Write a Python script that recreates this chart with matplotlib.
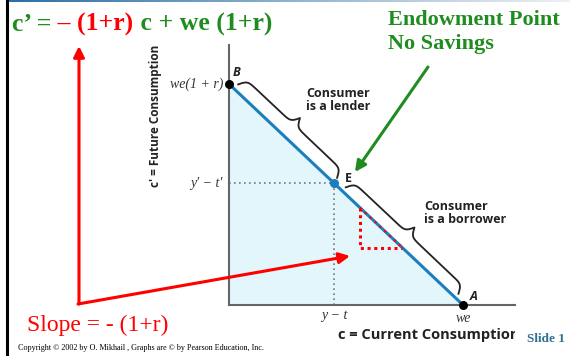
import numpy as np
import matplotlib
matplotlib.use("Agg")
import matplotlib.pyplot as plt
from matplotlib.colors import LinearSegmentedColormap
from matplotlib.patches import Rectangle

# budget line data (schematic units)
we = 10.0
r = 0.1
y_minus_t = 4.5
tri_x = [5.6, 7.4]
endowment_labels = ["y \u2212 t", "we"]
future_labels = ["we(1 + r)", "y\u2032 \u2212 t\u2032"]

GREEN = "#1f8c1f"
RED = "#ff0000"
BLUE = "#1b7fbd"
W, H = 570, 356


def future(c):
    return we * (1 + r) - (1 + r) * np.asarray(c)


fig = plt.figure(figsize=(W / 100, H / 100), dpi=100)
fig.patch.set_facecolor("white")

# graph axes
ax = fig.add_axes([229 / W, (H - 305) / H, 286 / W, 260 / H])
ax.set_xlim(0, 12.22)
ax.set_ylim(0, 12.94)
for s in ["top", "right"]:
    ax.spines[s].set_visible(False)
for s in ["left", "bottom"]:
    ax.spines[s].set_color("#666666")
    ax.spines[s].set_linewidth(1.5)
ax.set_xticks([])
ax.set_yticks([])
ax.patch.set_alpha(0)

c = np.array([0, we])
ax.fill_between(c, future(c), 0, color="#e3f6fb", zorder=1)
ax.plot(c, future(c), color=BLUE, lw=2.2, zorder=3)

e_y = float(future(y_minus_t))
ax.plot([0, y_minus_t], [e_y, e_y], color="#777777", lw=1.2, ls=(0, (1, 2)), zorder=2)
ax.plot([y_minus_t, y_minus_t], [0, e_y], color="#777777", lw=1.2, ls=(0, (1, 2)), zorder=2)

t0, t1 = tri_x
ax.plot([t0, t0, t1], [future(t0), future(t1), future(t1)], color=RED, lw=2.2,
        ls=(0, (1, 1.2)), zorder=4)
ax.plot([t0, t1], [future(t0), future(t1)], color=RED, lw=1.6, ls=(0, (1, 2)), zorder=4)

ax.scatter([0, we], [future(0), 0], s=30, color="black", zorder=5, clip_on=False)
ax.scatter([y_minus_t], [e_y], s=30, color=BLUE, zorder=5, clip_on=False)

# overlay in pixel coordinates
ov = fig.add_axes([0, 0, 1, 1], zorder=10)
ov.set_xlim(0, W)
ov.set_ylim(H, 0)
ov.axis("off")
ov.patch.set_alpha(0)


def to_px(x, y):
    px, py = ax.transData.transform((x, y))
    return px, H - py


def brace(p1, p2, a0, a1, base, height, n=200, beta=0.45):
    (x1, y1), (x2, y2) = p1, p2
    d = np.array([x2 - x1, y2 - y1])
    u = d / np.hypot(*d)
    nrm = np.array([u[1], -u[0]])
    L = a1 - a0
    x = np.linspace(0, L / 2, n)
    half = 1 / (1 + np.exp(-beta * (x - x[0]))) + 1 / (1 + np.exp(-beta * (x - x[-1])))
    yy = np.concatenate([half, half[::-1]]) - 0.5
    xx = np.concatenate([x, L - x[::-1]]) + a0
    pts = np.array([x1, y1]) + np.outer(xx, u) + np.outer(base + yy * height, nrm)
    ov.plot(pts[:, 0], pts[:, 1], color="#222222", lw=1.3)


B = to_px(0, future(0))
E = to_px(y_minus_t, e_y)
A = to_px(we, 0)
brace(B, E, 7, 143, 6, 18)
brace(E, A, 11, 166, 5, 18)

# border of the slide
cmap = LinearSegmentedColormap.from_list("top", ["#2c6fa3", "#8fb2cf", "#eef1f4"])
ov.imshow(np.linspace(0, 1, 256)[None, :], extent=(8, W, 2.5, 0), cmap=cmap, aspect="auto")
ov.plot([7, 7], [0, H], color="black", lw=2.2)
ov.set_xlim(0, W)
ov.set_ylim(H, 0)

# equation in the title
title_kw = dict(fontsize=18.5, fontweight="bold", family="Liberation Serif")
t = ov.text(12, 31, "c\u2019 =", color=GREEN, va="baseline", **title_kw)
t = ov.annotate(" \u2013 (1+r)", xy=(1, 0), xycoords=t, color=RED, va="bottom", **title_kw)
ov.annotate(" c + we (1+r)", xy=(1, 0), xycoords=t, color=GREEN, va="bottom", **title_kw)

ov.text(388, 10, "Endowment Point\nNo Savings", color=GREEN, fontsize=16, fontweight="bold",
        family="Liberation Serif", va="top", linespacing=1.3)
ov.text(27, 331, "Slope = - (1+r)", color=RED, fontsize=17, family="Liberation Serif",
        va="baseline")
ov.text(18, 350, "Copyright \u00a9 2002 by O. Mikhail , Graphs are \u00a9 by Pearson Education, Inc.",
        fontsize=5.9, family="Liberation Serif", va="baseline")
ov.text(527, 342, "Slide 1", color="#2f6f8f", fontsize=9.5, fontweight="bold",
        family="Liberation Serif", va="baseline")

# arrows
ov.annotate("", xy=(79, 46), xytext=(79, 304),
            arrowprops=dict(arrowstyle="-|>", color=RED, lw=2.2, mutation_scale=16,
                            shrinkA=0, shrinkB=0))
ov.annotate("", xy=(350, 256), xytext=(78, 304),
            arrowprops=dict(arrowstyle="-|>", color=RED, lw=2.2, mutation_scale=16,
                            shrinkA=0, shrinkB=0))
ov.annotate("", xy=(355, 172), xytext=(428, 67),
            arrowprops=dict(arrowstyle="-|>", color=GREEN, lw=2.2, mutation_scale=16,
                            shrinkA=0, shrinkB=0))

# graph labels
serif_it = dict(family="Liberation Serif", style="italic", fontsize=10, color="#333333")
ov.text(223, 84, future_labels[0], ha="right", va="center", **serif_it)
ov.text(223, 183, future_labels[1], ha="right", va="center", **serif_it)
ov.text(E[0], 316, endowment_labels[0], ha="center", va="center", **serif_it)
ov.text(A[0], 318, endowment_labels[1], ha="center", va="center", **serif_it)

sans_b = dict(family="Open Sans", fontweight="bold", color="#222222")
ov.text(237, 73, "B", style="italic", ha="center", va="center", fontsize=9, **sans_b)
ov.text(348, 178, "E", ha="center", va="center", fontsize=9, **sans_b)
ov.text(474, 297, "A", style="italic", ha="center", va="center", fontsize=9, **sans_b)
ov.text(306, 100, "Consumer\nis a lender", ha="left", va="center", linespacing=1.0,
        fontsize=9, **sans_b)
ov.text(424, 213, "Consumer\nis a borrower", ha="left", va="center", linespacing=1.0,
        fontsize=9, **sans_b)

xl = ov.text(338, 335, "c = Current Consumption", ha="left", va="center", fontsize=10.5, **sans_b)
xl.set_clip_path(Rectangle((0, 0), 515, H, transform=ov.transData))
xl.set_clip_on(True)
ov.text(155, 187, "c\u2032 = Future Consumption", rotation=90, ha="center", va="bottom",
        fontsize=8.5, **sans_b)

fig.savefig("out.png", dpi=100)
